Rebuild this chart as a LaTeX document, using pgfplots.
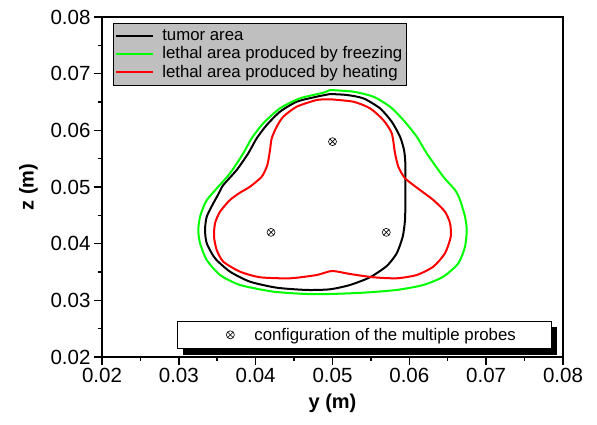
\documentclass[border=0pt]{standalone}
\usepackage{fontspec}
\setmainfont{Liberation Sans}
\usepackage{pgfplots}
\pgfplotsset{compat=1.18}
\usetikzlibrary{shadows}
\pgfplotsset{
  curveleg/.style={legend image code/.code={\draw[##1, line width=2pt] (0pt,0pt) -- (37pt,0pt);}},
}

\begin{document}
\begin{tikzpicture}
\useasboundingbox (-102pt,-68pt) rectangle (495pt,357pt);
\begin{axis}[
  at={(0,0)}, anchor=south west,
  width=461pt, height=340pt, scale only axis,
  xmin=0.02, xmax=0.08, ymin=0.02, ymax=0.08,
  xtick={0.02,0.03,0.04,0.05,0.06,0.07,0.08},
  ytick={0.02,0.03,0.04,0.05,0.06,0.07,0.08},
  scaled ticks=false,
  minor x tick num=1, minor y tick num=1,
  tick align=outside, xtick pos=left, ytick pos=left,
  major tick length=8pt, minor tick length=4pt,
  axis line style={line width=2.3pt},
  every tick/.style={line width=1.5pt, black},
  ticklabel style={font=\fontsize{20.5}{24}\selectfont},
  xlabel={y (m)}, ylabel={z (m)},
  xlabel style={yshift=-4pt},
  ylabel style={yshift=6pt},
  label style={font=\fontsize{20}{24}\selectfont\bfseries},
  legend style={at={(0.0239,0.982)}, anchor=north west, fill=gray!50, draw=black, line width=0.6pt,
    font=\fontsize{16.8}{19}\selectfont, inner xsep=2pt, inner ysep=4pt, row sep=1pt,
    /tikz/every odd column/.append style={column sep=6pt}},
  legend cell align=left,
  /pgf/number format/assume math mode=true,
  /pgf/number format/fixed,
  /pgf/number format/fixed zerofill,
  /pgf/number format/precision=2,
]
\addplot[black, line width=2pt, smooth, tension=0.4, curveleg] coordinates {
(0.04968,0.06641) (0.04795,0.06594) (0.04534,0.06505) (0.04317,0.06329) (0.04144,0.06094)
(0.04014,0.05860) (0.03904,0.05595) (0.03753,0.05300) (0.03579,0.05035) (0.03516,0.04877)
(0.03449,0.04713) (0.03363,0.04476) (0.03341,0.04241) (0.03363,0.04007) (0.03471,0.03742)
(0.03666,0.03506) (0.03926,0.03329) (0.04274,0.03223) (0.04664,0.03183) (0.04968,0.03195)
(0.05228,0.03271) (0.05488,0.03407) (0.05706,0.03606) (0.05836,0.03830) (0.05914,0.04123)
(0.05944,0.04418) (0.05948,0.04713) (0.05948,0.04947) (0.05948,0.05418) (0.05931,0.05653)
(0.05879,0.05888) (0.05771,0.06152) (0.05618,0.06389) (0.05401,0.06565) (0.05185,0.06624)
(0.04968,0.06641)};
\addlegendentry{tumor area}
\addplot[green, line width=2pt, smooth, tension=0.4, curveleg] coordinates {
(0.04968,0.06712) (0.04880,0.06664) (0.04577,0.06565) (0.04317,0.06389) (0.04099,0.06124)
(0.03948,0.05860) (0.03839,0.05595) (0.03666,0.05242) (0.03406,0.04841) (0.03341,0.04713)
(0.03276,0.04476) (0.03253,0.04241) (0.03276,0.04007) (0.03363,0.03712) (0.03536,0.03447)
(0.03796,0.03271) (0.04230,0.03153) (0.04664,0.03112) (0.04968,0.03112) (0.05401,0.03135)
(0.05836,0.03183) (0.06182,0.03271) (0.06442,0.03417) (0.06638,0.03654) (0.06725,0.03947)
(0.06747,0.04241) (0.06725,0.04476) (0.06660,0.04771) (0.06595,0.04947) (0.06442,0.05182)
(0.06226,0.05595) (0.06096,0.05888) (0.05922,0.06182) (0.05749,0.06417) (0.05531,0.06594)
(0.05271,0.06682) (0.04968,0.06712)};
\addlegendentry{lethal area produced by freezing}
\addplot[red, line width=2pt, smooth, tension=0.4, curveleg] coordinates {
(0.04968,0.06548) (0.04795,0.06535) (0.04534,0.06417) (0.04360,0.06241) (0.04274,0.06064)
(0.04209,0.05860) (0.04187,0.05653) (0.04152,0.05388) (0.04079,0.05182) (0.03926,0.05005)
(0.03796,0.04900) (0.03666,0.04771) (0.03536,0.04564) (0.03471,0.04360) (0.03458,0.04123)
(0.03493,0.03888) (0.03579,0.03682) (0.03796,0.03506) (0.04057,0.03407) (0.04447,0.03389)
(0.04795,0.03447) (0.04994,0.03518) (0.05228,0.03465) (0.05531,0.03407) (0.05836,0.03389)
(0.06096,0.03447) (0.06312,0.03594) (0.06464,0.03830) (0.06539,0.04123) (0.06530,0.04360)
(0.06464,0.04564) (0.06312,0.04771) (0.06139,0.04947) (0.05944,0.05154) (0.05857,0.05358)
(0.05814,0.05595) (0.05771,0.05948) (0.05661,0.06182) (0.05488,0.06389) (0.05271,0.06505)
(0.04968,0.06548)};
\addlegendentry{lethal area produced by heating}
\end{axis}
\begin{axis}[
  at={(0,0)}, anchor=south west,
  width=461pt, height=340pt, scale only axis, hide axis,
  xmin=0.02, xmax=0.08, ymin=0.02, ymax=0.08,
  legend style={at={(0.1627,0.0235)}, anchor=south west, fill=white, draw=black, line width=0.7pt,
    drop shadow={shadow xshift=6pt, shadow yshift=-6pt, fill=black, opacity=1},
    font=\fontsize{16.8}{19}\selectfont, inner xsep=0pt, inner ysep=5pt},
]
\addplot[only marks, mark=otimes, mark size=4pt, mark options={line width=0.6pt, black},
  legend image code/.code={\pgfpathmoveto{\pgfpoint{-53pt}{0pt}}\pgfpathlineto{\pgfpoint{22pt}{0pt}}\pgfusepath{discard}%
    \draw[black, line width=0.6pt] plot[only marks, mark=otimes, mark size=4pt] coordinates {(0pt,0pt)};}]
  coordinates {(0.050,0.058) (0.042,0.042) (0.057,0.042)};
\addlegendentry{configuration of the multiple probes\hspace*{33pt}}
\end{axis}
\end{tikzpicture}
\end{document}
